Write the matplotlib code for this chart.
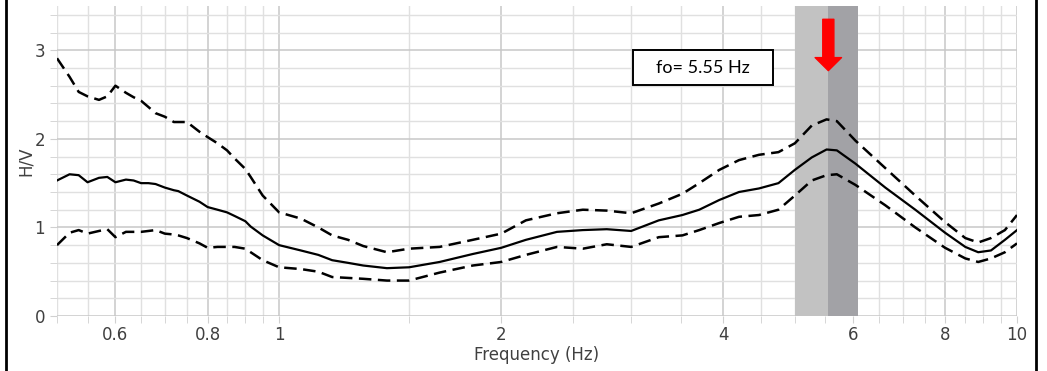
import matplotlib
matplotlib.use("Agg")
import matplotlib.pyplot as plt
from matplotlib.lines import Line2D
from matplotlib.patches import Rectangle
from matplotlib.ticker import FixedLocator, FixedFormatter, NullFormatter

# frequency grid (Hz)
freq = [0.50, 0.52, 0.535, 0.55, 0.57, 0.585, 0.60, 0.62, 0.635, 0.65,
        0.665, 0.68, 0.70, 0.72, 0.73, 0.75, 0.78, 0.80, 0.825, 0.85,
        0.87, 0.90, 0.915, 0.95, 1.0, 1.07, 1.13, 1.18, 1.24, 1.30,
        1.40, 1.50, 1.65, 1.83, 2.0, 2.16, 2.38, 2.58, 2.78, 3.0,
        3.27, 3.52, 3.71, 3.95, 4.2, 4.47, 4.75, 5.0, 5.27, 5.52,
        5.7, 6.04, 6.63, 7.28, 7.99, 8.51, 8.86, 9.22, 9.63, 10.0]

# mean H/V curve
hv_mean = [1.53, 1.60, 1.59, 1.51, 1.56, 1.57, 1.51, 1.54, 1.53, 1.50,
           1.50, 1.49, 1.45, 1.42, 1.41, 1.36, 1.29, 1.23, 1.20, 1.17,
           1.13, 1.07, 1.01, 0.91, 0.80, 0.74, 0.69, 0.63, 0.60, 0.57,
           0.54, 0.55, 0.61, 0.70, 0.77, 0.86, 0.95, 0.97, 0.98, 0.96,
           1.08, 1.14, 1.20, 1.31, 1.40, 1.44, 1.50, 1.65, 1.79, 1.88,
           1.87, 1.72, 1.45, 1.20, 0.94, 0.78, 0.72, 0.74, 0.86, 0.97]

# mean + std
hv_upper = [2.91, 2.70, 2.53, 2.48, 2.44, 2.48, 2.60, 2.52, 2.47, 2.43,
            2.36, 2.29, 2.25, 2.19, 2.19, 2.19, 2.08, 2.02, 1.95, 1.87,
            1.78, 1.66, 1.57, 1.36, 1.17, 1.10, 1.00, 0.91, 0.86, 0.79,
            0.72, 0.76, 0.78, 0.86, 0.93, 1.08, 1.16, 1.20, 1.19, 1.16,
            1.27, 1.38, 1.50, 1.65, 1.76, 1.82, 1.85, 1.95, 2.15, 2.22,
            2.20, 1.98, 1.67, 1.36, 1.06, 0.88, 0.83, 0.88, 0.97, 1.14]

# mean - std
hv_lower = [0.80, 0.94, 0.97, 0.93, 0.96, 0.98, 0.89, 0.95, 0.95, 0.95,
            0.96, 0.97, 0.93, 0.92, 0.91, 0.88, 0.82, 0.77, 0.78, 0.78,
            0.78, 0.76, 0.72, 0.63, 0.55, 0.53, 0.50, 0.44, 0.43, 0.42,
            0.40, 0.40, 0.49, 0.57, 0.61, 0.69, 0.78, 0.76, 0.81, 0.78,
            0.89, 0.91, 0.97, 1.05, 1.12, 1.14, 1.20, 1.36, 1.53, 1.59,
            1.60, 1.48, 1.25, 1.00, 0.77, 0.65, 0.61, 0.65, 0.72, 0.82]

f0 = 5.55
f0_low = 5.0
f0_high = 6.08

x_major = [0.6, 0.8, 1, 2, 4, 6, 8, 10]
x_major_labels = ["0.6", "0.8", "1", "2", "4", "6", "8", "10"]
x_minor = [0.5, 0.55, 0.65, 0.7, 0.75, 0.85, 0.9, 0.95, 1.5, 2.5, 3, 3.5,
           4.5, 5, 5.5, 6.5, 7, 7.5, 8.5, 9, 9.5]
y_major = [0, 1, 2, 3]
y_minor = [0.2, 0.4, 0.6, 0.8, 1.2, 1.4, 1.6, 1.8, 2.2, 2.4, 2.6, 2.8, 3.2, 3.4]

fig = plt.figure(figsize=(10.47, 3.71), dpi=100)
ax = fig.add_axes([57 / 1047, 55 / 371, 960 / 1047, 310 / 371])

ax.set_xscale("log")
ax.set_xlim(0.5, 10)
ax.set_ylim(0, 3.5)

ax.xaxis.set_major_locator(FixedLocator(x_major))
ax.xaxis.set_major_formatter(FixedFormatter(x_major_labels))
ax.xaxis.set_minor_locator(FixedLocator(x_minor))
ax.xaxis.set_minor_formatter(NullFormatter())
ax.yaxis.set_major_locator(FixedLocator(y_major))
ax.yaxis.set_minor_locator(FixedLocator(y_minor))

ax.grid(True, which="major", color="#c8c8c8", lw=1.1, zorder=0)
ax.grid(True, which="minor", color="#e0e0e0", lw=1.0, zorder=0)
ax.set_axisbelow(True)
for s in ax.spines.values():
    s.set_visible(False)
ax.tick_params(which="both", direction="out", length=5, color="#d0d0d0",
               labelcolor="#404040", labelsize=12)
ax.tick_params(axis="x", which="both", pad=2)

# f0 band
ax.axvspan(f0_low, f0, color="#c2c2c2", lw=0, zorder=1)
ax.axvspan(f0, f0_high, color="#a2a2a6", lw=0, zorder=1)

ax.plot(freq, hv_upper, color="black", lw=1.8, ls=(0, (5, 2.6)), zorder=3)
ax.plot(freq, hv_lower, color="black", lw=1.8, ls=(0, (5, 2.6)), zorder=3)
ax.plot(freq, hv_mean, color="black", lw=1.6, zorder=3)

# red arrow marking f0
ax.annotate("", xy=(f0, 2.77), xytext=(f0, 3.35),
            arrowprops=dict(arrowstyle="simple,head_width=0.95,head_length=0.47,tail_width=0.4",
                            color="red", shrinkA=0, shrinkB=0, mutation_scale=20),
            zorder=5)

# f0 text box
ax.add_patch(Rectangle((0.6, 0.745), 0.1458, 0.1129, transform=ax.transAxes,
                       facecolor="white", edgecolor="black", lw=1.4, zorder=4))
ax.text(0.673, 0.80, "fo= 5.55 Hz", transform=ax.transAxes, ha="center", va="center",
        family="Lato", fontsize=13, color="black", zorder=5)

ax.set_xlabel("Frequency (Hz)", fontsize=12, color="#404040", labelpad=2)
ax.set_ylabel("H/V", fontsize=12, color="#404040", labelpad=0)

# border lines left and right
fig.add_artist(Line2D([6 / 1047, 6 / 1047], [0, 1], transform=fig.transFigure, color="black", lw=2))
fig.add_artist(Line2D([1036 / 1047, 1036 / 1047], [0, 1], transform=fig.transFigure, color="black", lw=2))

fig.savefig("out.png", dpi=100)
